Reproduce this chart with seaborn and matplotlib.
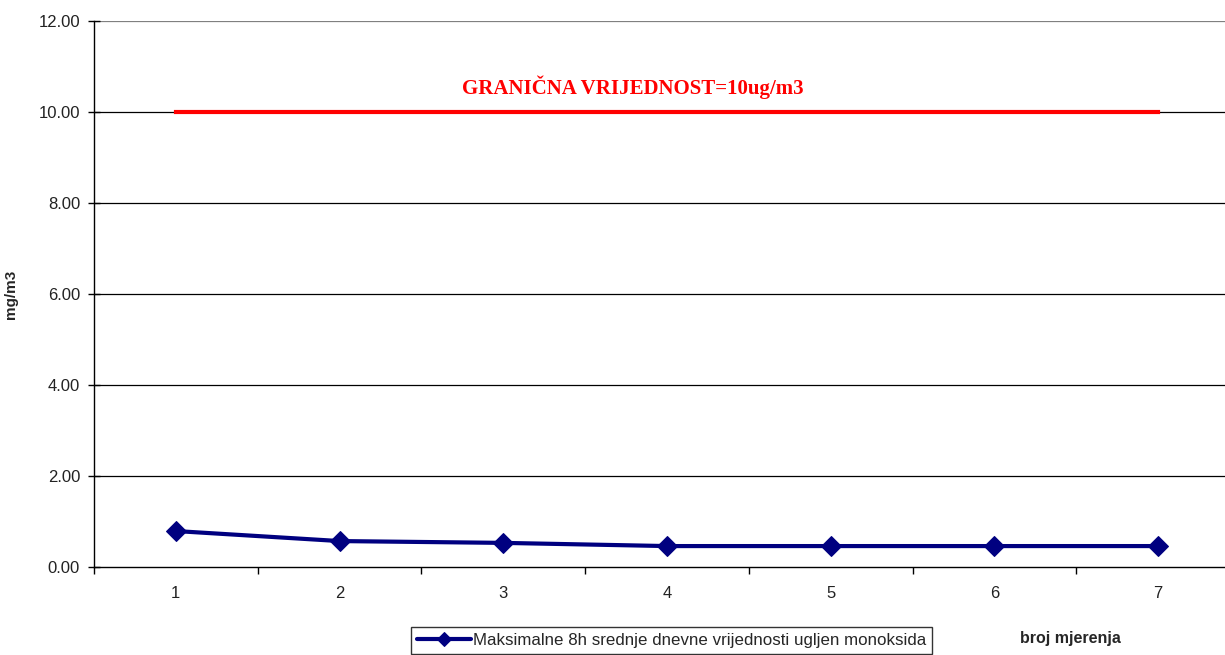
import matplotlib
matplotlib.use("Agg")
import matplotlib.pyplot as plt
import seaborn as sns
import pandas as pd

# data
mjerenja = [1, 2, 3, 4, 5, 6, 7]
co_vrijednosti = [0.79, 0.57, 0.53, 0.46, 0.46, 0.46, 0.46]
granicna = [10, 10, 10, 10, 10, 10, 10]
y_ticks = [0, 2, 4, 6, 8, 10, 12]

serija = "Maksimalne 8h srednje dnevne vrijednosti ugljen monoksida"
df = pd.DataFrame({"broj": mjerenja, "co": co_vrijednosti, "gr": granicna})

sns.set_style("white")
plt.rcParams["font.family"] = ["Liberation Sans", "DejaVu Sans"]

fig = plt.figure(figsize=(12.25, 6.55), dpi=100)
W, H = 1225, 655
ax = fig.add_axes([94 / W, 1 - 567 / H, (1240 - 94) / W, (567 - 21) / H])

# grid lines
for t in y_ticks[1:]:
    ax.axhline(t, color="black" if t < 12 else "#808080", lw=0.9, zorder=0)

# limit value line
sns.lineplot(data=df, x="broj", y="gr", ax=ax, color="#ff0000", lw=3,
             solid_capstyle="projecting", legend=False, zorder=2)

# measured values
sns.lineplot(data=df, x="broj", y="co", ax=ax, color="#000080", lw=3,
             marker="D", markersize=10, markeredgecolor="#000080",
             label=serija, legend=False, zorder=3)

ax.set_xlim(0.5, 7.5)
ax.set_ylim(0, 12)
ax.set_yticks(y_ticks)
ax.set_yticklabels([f"{t:.2f}" for t in y_ticks], fontsize=12, color="#222222")
ax.set_xticks(mjerenja)
ax.set_xticklabels([str(m) for m in mjerenja], fontsize=12, color="#222222")
ax.set_xticks([m + 0.5 for m in range(0, 7)], minor=True)
ax.tick_params(axis="x", which="major", length=0, pad=14)
ax.tick_params(axis="x", which="minor", length=5, width=1, color="black", direction="out", bottom=True)
ax.tick_params(axis="y", length=8, width=1, color="black", direction="inout", left=True, pad=6)

for s in ["top", "right"]:
    ax.spines[s].set_visible(False)
for s in ["left", "bottom"]:
    ax.spines[s].set_color("black")
    ax.spines[s].set_linewidth(1)

ax.set_xlabel("")
ax.set_ylabel("mg/m3", fontsize=11, fontweight="bold")
ax.yaxis.set_label_coords((18 - 94) / 1146, 0.5)

ax.text(3.79, 10.55, "GRANIČNA VRIJEDNOST=10ug/m3", color="#ff0000",
        fontsize=15, fontweight="bold", family=["Liberation Serif", "DejaVu Serif"],
        ha="center", va="center")

fig.text(1070 / W, 1 - 638 / H, "broj mjerenja", fontsize=11.5, fontweight="bold",
         ha="center", va="center")

h, l = ax.get_legend_handles_labels()
leg = fig.legend(h, l, loc="upper left", bbox_to_anchor=(411 / W, 1 - 627 / H),
                 frameon=True, fancybox=False, fontsize=12.2, handlelength=3.2,
                 handletextpad=0.1, borderpad=0.35, borderaxespad=0, markerscale=0.7)
leg.get_frame().set_edgecolor("black")
leg.get_frame().set_linewidth(1)

fig.savefig("out.png", dpi=100)
